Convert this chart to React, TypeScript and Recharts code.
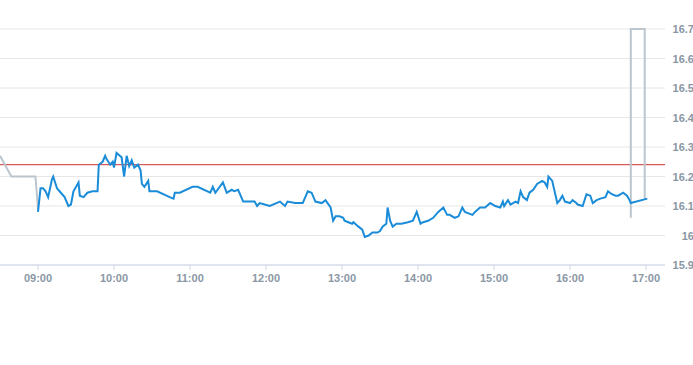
import { LineChart, Line, XAxis, YAxis, CartesianGrid, ReferenceLine } from 'recharts'

// intraday price, "HH:MM" -> price
const preTimes = ['08:30', '08:39', '08:58', '09:00']
const preValues = [16.27, 16.2, 16.2, 16.09]

const mainTimes = [
  '09:00', '09:02', '09:04', '09:06', '09:08', '09:11', '09:12', '09:15', '09:17', '09:21',
  '09:24', '09:26', '09:28', '09:32', '09:33', '09:36', '09:39', '09:43', '09:47', '09:48',
  '09:51', '09:53', '09:54', '09:57', '09:59', '10:00', '10:02', '10:06', '10:08', '10:10',
  '10:12', '10:14', '10:16', '10:19', '10:21', '10:22', '10:24', '10:27', '10:28', '10:34',
  '10:44', '10:47', '10:48', '10:52', '11:02', '11:06', '11:16', '11:18', '11:20', '11:26',
  '11:29', '11:33', '11:35', '11:38', '11:42', '11:51', '11:53', '11:55', '11:59', '12:03',
  '12:11', '12:15', '12:17', '12:23', '12:29', '12:33', '12:36', '12:39', '12:44', '12:47',
  '12:51', '12:53', '12:55', '12:58', '13:01', '13:02', '13:05', '13:08', '13:09', '13:13',
  '13:16', '13:18', '13:21', '13:24', '13:28', '13:30', '13:32', '13:35', '13:36', '13:38',
  '13:40', '13:43', '13:47', '13:52', '13:56', '13:59', '14:02', '14:04', '14:08', '14:12',
  '14:16', '14:20', '14:23', '14:25', '14:29', '14:32', '14:35', '14:37', '14:43', '14:45',
  '14:49', '14:53', '14:57', '15:01', '15:05', '15:07', '15:08', '15:11', '15:13', '15:17',
  '15:19', '15:21', '15:23', '15:26', '15:28', '15:31', '15:34', '15:38', '15:40', '15:42',
  '15:43', '15:46', '15:47', '15:50', '15:52', '15:54', '15:56', '16:00', '16:02', '16:05',
  '16:06', '16:10', '16:13', '16:16', '16:18', '16:21', '16:24', '16:28', '16:30', '16:33',
  '16:36', '16:38', '16:42', '16:45', '16:47', '16:48', '17:01',
]
const mainValues = [
  16.08, 16.16, 16.16, 16.15, 16.13, 16.19, 16.2, 16.16, 16.15, 16.13,
  16.1, 16.105, 16.15, 16.18, 16.135, 16.13, 16.145, 16.15, 16.15, 16.24,
  16.25, 16.27, 16.26, 16.24, 16.25, 16.23, 16.28, 16.265, 16.2, 16.27,
  16.235, 16.255, 16.23, 16.24, 16.22, 16.175, 16.165, 16.185, 16.15, 16.15,
  16.13, 16.125, 16.145, 16.145, 16.165, 16.165, 16.145, 16.165, 16.145, 16.18,
  16.145, 16.155, 16.15, 16.155, 16.115, 16.115, 16.1, 16.11, 16.105, 16.1,
  16.115, 16.1, 16.115, 16.11, 16.11, 16.15, 16.145, 16.115, 16.11, 16.12,
  16.095, 16.05, 16.065, 16.065, 16.06, 16.05, 16.045, 16.04, 16.045, 16.03,
  16.02, 15.995, 16.0, 16.01, 16.01, 16.015, 16.03, 16.04, 16.095, 16.05,
  16.03, 16.04, 16.04, 16.045, 16.05, 16.08, 16.04, 16.045, 16.05, 16.06,
  16.08, 16.095, 16.07, 16.07, 16.06, 16.065, 16.095, 16.08, 16.07, 16.08,
  16.095, 16.095, 16.11, 16.1, 16.095, 16.115, 16.1, 16.12, 16.105, 16.115,
  16.11, 16.15, 16.13, 16.12, 16.145, 16.155, 16.175, 16.185, 16.18, 16.165,
  16.2, 16.185, 16.165, 16.11, 16.12, 16.135, 16.115, 16.11, 16.12, 16.11,
  16.105, 16.1, 16.14, 16.135, 16.11, 16.12, 16.125, 16.13, 16.15, 16.14,
  16.135, 16.135, 16.145, 16.135, 16.12, 16.11, 16.125,
]

const postTimes = ['16:48', '16:48', '16:59', '16:59']
const postValues = [16.06, 16.7, 16.7, 16.125]

const xTicks = ['09:00', '10:00', '11:00', '12:00', '13:00', '14:00', '15:00', '16:00', '17:00']
const yTicks = [15.9, 16, 16.1, 16.2, 16.3, 16.4, 16.5, 16.6, 16.7]
const refPrice = 16.24

const toMin = (t: string) => {
  const [h, m] = t.split(':').map(Number)
  return h * 60 + m
}
const fmtMin = (v: number) => {
  const h = Math.floor(v / 60)
  const m = v % 60
  return `${String(h).padStart(2, '0')}:${String(m).padStart(2, '0')}`
}
const zip = (times: string[], values: number[]) =>
  times.map((t, i) => ({ t: toMin(t), v: values[i] }))

const preData = zip(preTimes, preValues)
const mainData = zip(mainTimes, mainValues)
const postData = zip(postTimes, postValues)

const LABEL = { fontSize: 11, fill: '#8a97a5', fontFamily: 'Liberation Sans, Arial, sans-serif', fontWeight: 'bold' as const }

const YTick = ({ x, y, payload }: any) => (
  <text x={x + 21} y={y} dy={4} textAnchor="end" {...LABEL}>
    {payload.value}
  </text>
)

export default function App() {
  return (
    <div style={{ position: 'absolute', left: 0, top: 0, background: '#fff' }}>
      <LineChart width={693} height={365} margin={{ top: 29, right: 0, left: 0, bottom: 70 }}>
        <CartesianGrid vertical={false} stroke="#e6e6e6" />
        <XAxis
          dataKey="t"
          type="number"
          domain={[toMin('08:30'), toMin('17:15')]}
          ticks={xTicks.map(toMin)}
          tickFormatter={fmtMin}
          allowDataOverflow
          height={30}
          stroke="#ccd6eb"
          tickSize={5}
          tickMargin={4}
          tick={LABEL}
        />
        <YAxis
          orientation="right"
          type="number"
          domain={[15.9, 16.7]}
          ticks={yTicks}
          width={28}
          axisLine={false}
          tickLine={false}
          tick={<YTick />}
        />
        <ReferenceLine y={refPrice} stroke="#cc3333" strokeWidth={1} />
        <Line data={preData} dataKey="v" stroke="#bcc6ce" strokeWidth={2} dot={false} isAnimationActive={false} />
        <Line data={postData} dataKey="v" stroke="#bcc6ce" strokeWidth={2} dot={false} isAnimationActive={false} />
        <Line data={mainData} dataKey="v" stroke="#1a8cd8" strokeWidth={2} dot={false} isAnimationActive={false} />
      </LineChart>
    </div>
  )
}
